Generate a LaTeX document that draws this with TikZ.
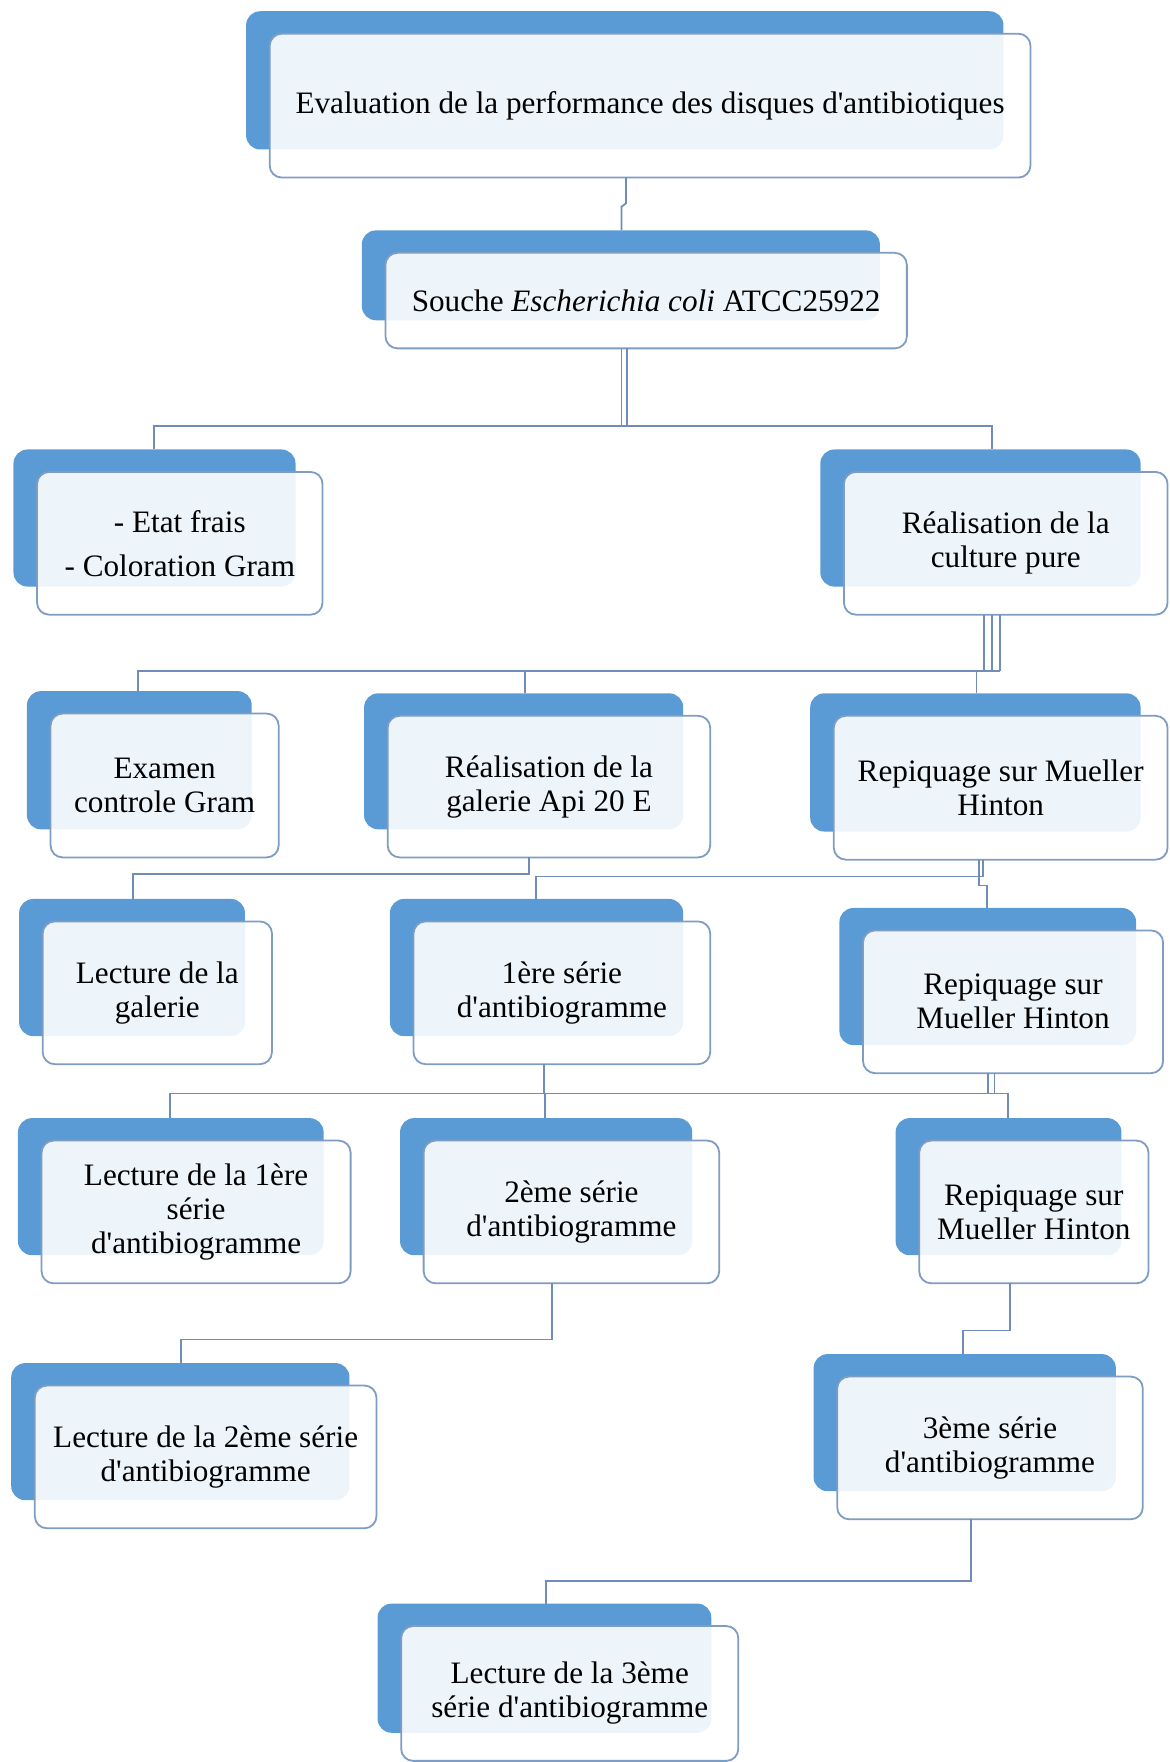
\documentclass[tikz,border=0pt]{standalone}
\usepackage{fontspec}
\setmainfont{Liberation Serif}
\definecolor{backblue}{HTML}{5B9BD5}
\definecolor{frontline}{HTML}{7F9CC3}
\definecolor{connline}{HTML}{6F8DB8}
\newcommand\apos{\textquotesingle}
\tikzset{
  backbox/.style={draw=none, fill=backblue, rounded corners=7pt, inner sep=0pt, outer sep=0pt, anchor=north west},
  frontbox/.style={draw=frontline, line width=0.9pt, fill=white, fill opacity=0.9, text opacity=1,
     rounded corners=6pt, inner sep=2pt, outer sep=0pt, anchor=north west, align=center,
     font=\fontsize{15.6}{17}\selectfont},
  conn/.style={draw=connline, line width=0.9pt}
}
\newcommand\stage[6]{%
  \pgfmathsetmacro\stw{(#4-#2)*0.56195}%
  \pgfmathsetmacro\sth{(#5-#3)*0.56195}%
  \pgfmathsetmacro\bkw{(#4-#2-3)*0.56195}%
  \pgfmathsetmacro\bkh{(#5-#3-5)*0.56195}%
  \node[backbox, minimum width=\bkw pt, minimum height=\bkh pt] (#1b) at (#2-21,#3-20) {};
  \node[frontbox, minimum width=\stw pt, minimum height=\sth pt] (#1) at (#2,#3) {#6};
}
\begin{document}
\begin{tikzpicture}[x=0.56195pt,y=-0.56195pt]
\useasboundingbox (0,0) rectangle (1041,1568);
\stage{A}{240}{30}{917}{158}{Evaluation de la performance des disques d\apos antibiotiques}
\stage{B}{343}{225}{807}{310}{Souche \textit{Escherichia coli} ATCC25922}
\stage{C}{33}{420}{287}{547}{- Etat frais\\[5pt]- Coloration Gram}
\stage{D}{751}{420}{1039}{547}{Réalisation de la\\culture pure}
\stage{E}{45}{635}{248}{763}{Examen\\controle Gram}
\stage{F}{345}{637}{632}{763}{Réalisation de la\\galerie Api 20 E}
\stage{G}{742}{637}{1039}{765}{Repiquage sur Mueller\\Hinton}
\stage{H}{38}{820}{242}{947}{Lecture de la\\galerie}
\stage{I}{368}{820}{632}{947}{1ère série\\d\apos antibiogramme}
\stage{J}{768}{828}{1035}{955}{Repiquage sur\\Mueller Hinton}
\stage{K}{37}{1015}{312}{1142}{Lecture de la 1ère\\série\\d\apos antibiogramme}
\stage{L}{377}{1015}{640}{1142}{2ème série\\d\apos antibiogramme}
\stage{M}{818}{1015}{1022}{1142}{Repiquage sur\\Mueller Hinton}
\stage{N}{31}{1233}{335}{1360}{Lecture de la 2ème série\\d\apos antibiogramme}
\stage{O}{745}{1225}{1017}{1352}{3ème série\\d\apos antibiogramme}
\stage{P}{357}{1447}{657}{1567}{Lecture de la 3ème\\série d\apos antibiogramme}
% A -> B
\draw[conn] (A.south -| 557,0) -- (557,181) -- (553,184) -- (Bb.north -| 553,0);
% B -> C, D
\coordinate (jb) at (553,379);
\draw[conn] (B.south -| 553,0) -- (jb);
\draw[conn] (B.south -| 558,0) -- (558,379);
\draw[conn] (Cb.north -| 137,0) -- (137,379) -- (883,379) -- (Db.north -| 883,0);
% D -> E, F, G
\draw[conn] (D.south -| 876,0) -- (876,597);
\draw[conn] (D.south -| 883,0) -- (883,597);
\draw[conn] (D.south -| 890,0) -- (890,597);
\draw[conn] (Eb.north -| 123,0) -- (123,597) -- (890,597);
\draw[conn] (467,597) -- (Fb.north -| 467,0);
\draw[conn] (869,597) -- (Gb.north -| 869,0);
% F -> H
\draw[conn] (F.south -| 471,0) -- (471,778) -- (118,778) -- (Hb.north -| 118,0);
% G -> I, J
\draw[conn] (G.south -| 871,0) -- (871,780);
\draw[conn] (G.south -| 875,0) -- (875,780);
\draw[conn] (Ib.north -| 477,0) -- (477,780) -- (875,780);
\draw[conn] (871,780) -- (871,788) -- (878,788) -- (Jb.north -| 878,0);
% I, J -> K, L, M
\draw[conn] (I.south -| 484,0) -- (484,973);
\draw[conn] (J.south -| 879,0) -- (879,973);
\draw[conn] (J.south -| 885,0) -- (885,973);
\draw[conn] (Kb.north -| 151,0) -- (151,973) -- (897,973) -- (Mb.north -| 897,0);
\draw[conn] (485,973) -- (Lb.north -| 485,0);
% L -> N
\draw[conn] (L.south -| 491,0) -- (491,1192) -- (161,1192) -- (Nb.north -| 161,0);
% M -> O
\draw[conn] (M.south -| 899,0) -- (899,1184) -- (857,1184) -- (Ob.north -| 857,0);
% O -> P
\draw[conn] (O.south -| 864,0) -- (864,1407) -- (486,1407) -- (Pb.north -| 486,0);
\end{tikzpicture}
\end{document}
